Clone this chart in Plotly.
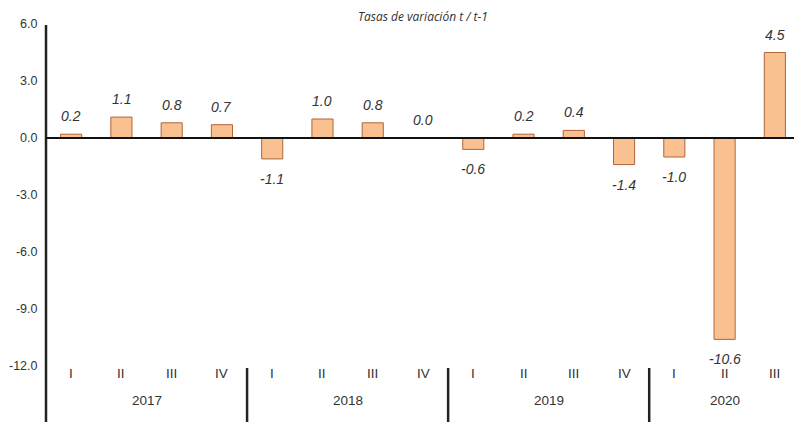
import plotly.graph_objects as go

years = ["2017", "2018", "2019", "2020"]
quarters = ["I", "II", "III", "IV", "I", "II", "III", "IV", "I", "II", "III", "IV", "I", "II", "III"]
values = [0.2, 1.1, 0.8, 0.7, -1.1, 1.0, 0.8, 0.0, -0.6, 0.2, 0.4, -1.4, -1.0, -10.6, 4.5]
year_of = ["2017"] * 4 + ["2018"] * 4 + ["2019"] * 4 + ["2020"] * 3
labels = [f"{v:.1f}" for v in values]
cats = [f"{y}-{q}" for y, q in zip(year_of, quarters)]

# page has an 8px body margin, so the figure is sized to fill the rest of the window
W, H = 794, 414
ML, MR, MT, MB = 38, 2, 16, 56
plot_h = H - MT - MB
FONT = "Liberation Sans, Arial"

fig = go.Figure()
fig.add_trace(go.Bar(
    x=cats, y=values, width=0.42,
    marker=dict(color="#F9C18F", line=dict(color="#B0643A", width=1)),
    hoverinfo="skip",
))

ann = []
for c, v, t in zip(cats, values, labels):
    ann.append(dict(x=c, y=v, xref="x", yref="y",
                    text=t, showarrow=False,
                    yshift=18 if v >= 0 else -20,
                    font=dict(family=FONT, size=14, color="#333333", style="italic")))
for c, q in zip(cats, quarters):
    ann.append(dict(x=c, y=-17 / plot_h, xref="x", yref="paper", text=q, showarrow=False,
                    font=dict(family=FONT, size=13.5, color="#333333")))
for yr in years:
    idx = [i for i, y in enumerate(year_of) if y == yr]
    ann.append(dict(x=(idx[0] + idx[-1]) / 2, y=-44 / plot_h, xref="x", yref="paper", text=yr,
                    showarrow=False,
                    font=dict(family=FONT, size=13.5, color="#333333")))
ann.append(dict(x=0.5, y=1 + 8 / plot_h, xref="paper", yref="paper", text="Tasas de variación t / t-1",
                showarrow=False, yanchor="middle",
                font=dict(family="Open Sans, Liberation Sans", size=12, color="#333333", style="italic")))

shapes = []
shapes.append(dict(type="line", xref="paper", yref="paper", x0=0, x1=0,
                   y0=1 - 1 / plot_h, y1=-MB / plot_h, line=dict(color="#222222", width=2.5)))
shapes.append(dict(type="line", xref="paper", yref="y", x0=0, x1=1, y0=0, y1=0,
                   line=dict(color="#111111", width=2)))
for b in [3.5, 7.5, 11.5, 14.5]:
    shapes.append(dict(type="line", xref="x", yref="paper", x0=b, x1=b,
                       y0=-2 / plot_h, y1=-MB / plot_h, line=dict(color="#222222", width=2.5)))

fig.update_layout(
    width=W, height=H,
    margin=dict(l=ML, r=MR, t=MT, b=MB, autoexpand=False),
    plot_bgcolor="white", paper_bgcolor="white",
    showlegend=False,
    annotations=ann, shapes=shapes,
    xaxis=dict(type="category", showticklabels=False, showgrid=False, zeroline=False,
               showline=False, ticks="", range=[-0.5, 14.5], automargin=False),
    yaxis=dict(range=[-12, 6], tickvals=[6, 3, 0, -3, -6, -9, -12],
               ticktext=["6.0", "3.0", "0.0", "-3.0", "-6.0", "-9.0", "-12.0"],
               showgrid=False, zeroline=False, showline=False, automargin=False,
               ticks="outside", ticklen=5, tickcolor="rgba(0,0,0,0)",
               tickfont=dict(family=FONT, size=12.5, color="#333333")),
)

fig.write_html("out.html")
